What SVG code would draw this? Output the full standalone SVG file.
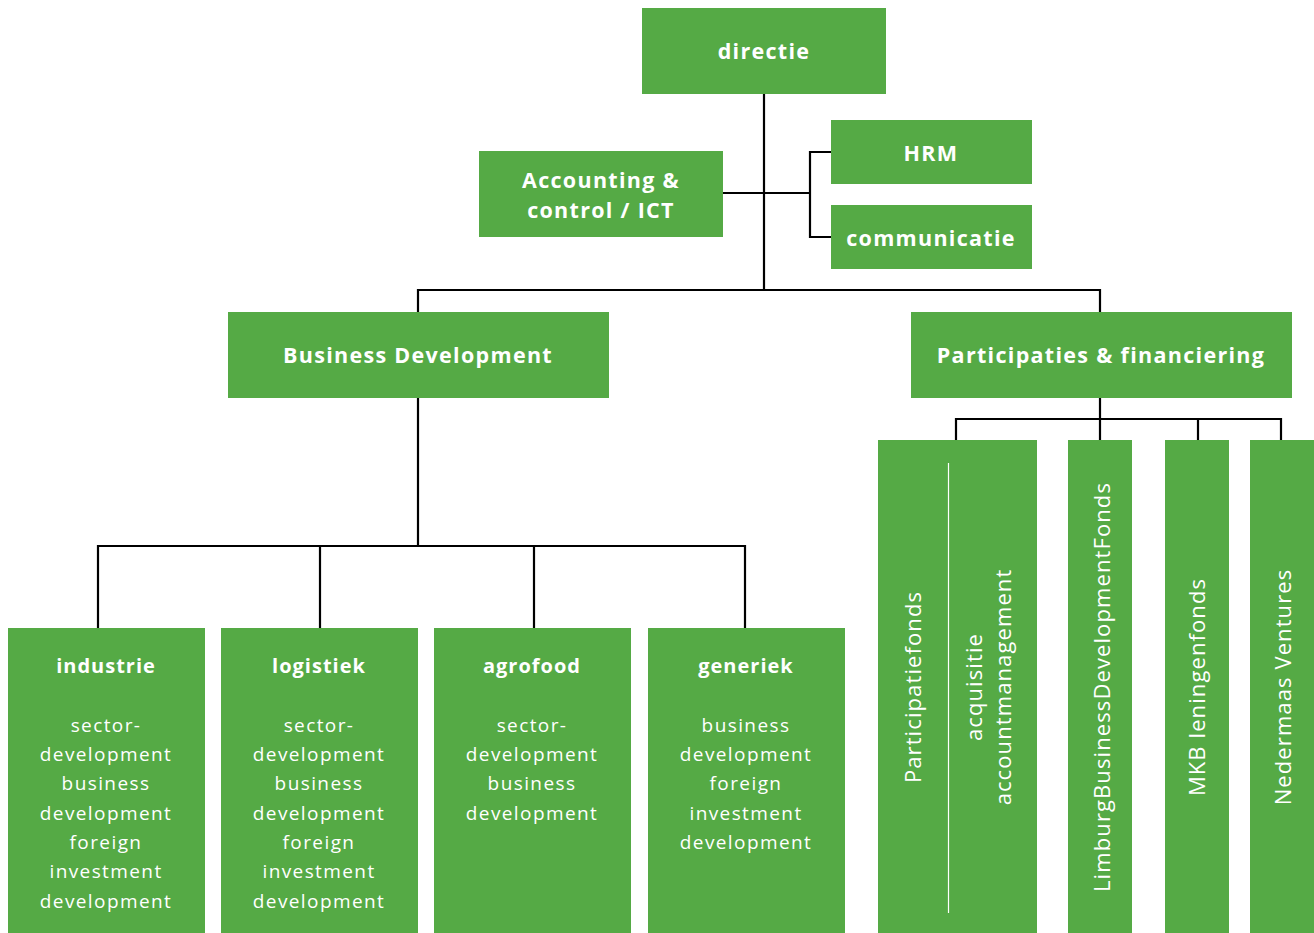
<svg xmlns="http://www.w3.org/2000/svg" width="1314" height="933" viewBox="0 0 1314 933">
<style>
.box{fill:#55aa45}
.h{font-family:"Open Sans","Noto Sans",sans-serif;font-weight:700;font-size:21.5px;fill:#fff;text-anchor:middle;letter-spacing:1.3px}
.s{font-size:20px;letter-spacing:1px}
.b{font-family:"Open Sans","Noto Sans",sans-serif;font-weight:400;font-size:19px;fill:#fff;text-anchor:middle;letter-spacing:1.4px}
.v{font-family:"Open Sans","Noto Sans",sans-serif;font-weight:400;font-size:22px;fill:#fff;text-anchor:middle;letter-spacing:1.1px}
.c{fill:none;stroke:#000;stroke-width:2.2}
</style>
<rect width="1314" height="933" fill="#fff"/>
<g id="connectors">
<path class="c" d="M764 94V290M723 193H810M831 152H810V237H831M418 312V290H1100V312M418 398V546M98 628V546H745V628M320 546V628M534 546V628M1100 398V419M956 440V419H1281V440M1100 419V440M1198 419V440"/>
</g>
<g id="directie"><rect class="box" x="642" y="8" width="244" height="86"/><text class="h" x="764" y="59">directie</text></g>
<g id="accounting"><rect class="box" x="479" y="151" width="244" height="86"/><text class="h" x="601" y="188">Accounting &amp;</text><text class="h" x="601" y="218">control / ICT</text></g>
<g id="hrm"><rect class="box" x="831" y="120" width="201" height="64"/><text class="h" x="931" y="161">HRM</text></g>
<g id="communicatie"><rect class="box" x="831" y="205" width="201" height="64"/><text class="h" x="931" y="246">communicatie</text></g>
<g id="business-development"><rect class="box" x="228" y="312" width="381" height="86"/><text class="h" x="418" y="363">Business Development</text></g>
<g id="participaties"><rect class="box" x="911" y="312" width="381" height="86"/><text class="h" x="1101" y="363">Participaties &amp; financiering</text></g>
<g id="industrie"><rect class="box" x="8" y="628" width="197" height="305"/><text class="h s" x="106" y="673">industrie</text>
<text class="b" x="106" y="732">sector-</text><text class="b" x="106" y="761">development</text><text class="b" x="106" y="790">business</text><text class="b" x="106" y="820">development</text><text class="b" x="106" y="849">foreign</text><text class="b" x="106" y="878">investment</text><text class="b" x="106" y="908">development</text></g>
<g id="logistiek"><rect class="box" x="221" y="628" width="197" height="305"/><text class="h s" x="319" y="673">logistiek</text>
<text class="b" x="319" y="732">sector-</text><text class="b" x="319" y="761">development</text><text class="b" x="319" y="790">business</text><text class="b" x="319" y="820">development</text><text class="b" x="319" y="849">foreign</text><text class="b" x="319" y="878">investment</text><text class="b" x="319" y="908">development</text></g>
<g id="agrofood"><rect class="box" x="434" y="628" width="197" height="305"/><text class="h s" x="532" y="673">agrofood</text>
<text class="b" x="532" y="732">sector-</text><text class="b" x="532" y="761">development</text><text class="b" x="532" y="790">business</text><text class="b" x="532" y="820">development</text></g>
<g id="generiek"><rect class="box" x="648" y="628" width="197" height="305"/><text class="h s" x="746" y="673">generiek</text>
<text class="b" x="746" y="732">business</text><text class="b" x="746" y="761">development</text><text class="b" x="746" y="790">foreign</text><text class="b" x="746" y="820">investment</text><text class="b" x="746" y="849">development</text></g>
<g id="participatiefonds"><rect class="box" x="878" y="440" width="159" height="493"/><line x1="948.5" y1="463" x2="948.5" y2="913" stroke="#fff" stroke-width="1.2"/>
<text class="v" transform="translate(921 687) rotate(-90)">Participatiefonds</text>
<text class="v" transform="translate(982 687) rotate(-90)">acquisitie</text>
<text class="v" transform="translate(1011 687) rotate(-90)">accountmanagement</text></g>
<g id="lbdf"><rect class="box" x="1068" y="440" width="64" height="493"/><text class="v" transform="translate(1110 687) rotate(-90)">LimburgBusinessDevelopmentFonds</text></g>
<g id="mkb"><rect class="box" x="1165" y="440" width="64" height="493"/><text class="v" transform="translate(1205 687) rotate(-90)">MKB leningenfonds</text></g>
<g id="nedermaas"><rect class="box" x="1250" y="440" width="64" height="493"/><text class="v" transform="translate(1291 687) rotate(-90)">Nedermaas Ventures</text></g>
</svg>
